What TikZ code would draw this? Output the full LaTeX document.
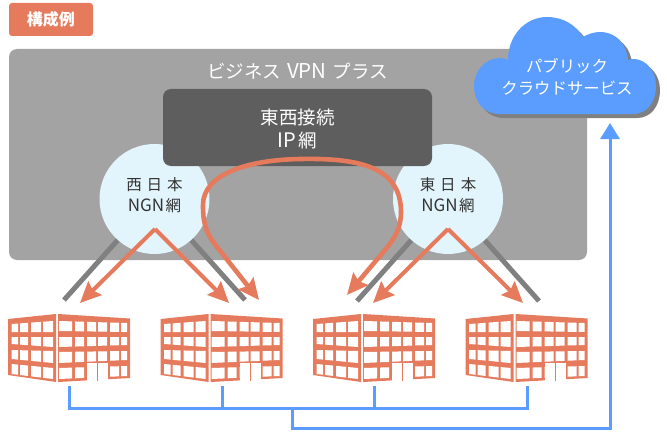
\documentclass[tikz,border=0pt]{standalone}
\usepackage{fontspec}
\setmainfont{Noto Sans CJK JP}
\usetikzlibrary{arrows.meta}
\definecolor{coral}{HTML}{E57B5C}
\definecolor{skyblue}{HTML}{5B9DFF}
\definecolor{panelgray}{HTML}{A2A3A2}
\definecolor{boxgray}{HTML}{5E5E5E}
\definecolor{linegray}{HTML}{808080}
\definecolor{ngnblue}{HTML}{E3F5FC}
\newcommand{\fsize}[2]{\fontsize{#1}{#2}\selectfont}
\tikzstyle{badge}=[rectangle,rounded corners=3pt,fill=coral,text=white,minimum width=84pt,minimum height=33pt,font=\fsize{16}{20}\bfseries]
\tikzstyle{panel}=[rectangle,rounded corners=8pt,fill=panelgray,minimum width=578pt,minimum height=211pt]
\tikzstyle{ipbox}=[rectangle,rounded corners=8pt,fill=boxgray,minimum width=269pt,minimum height=77pt]
\tikzstyle{iplabel}=[text=white,align=center,font=\fsize{18.5}{23}]
\tikzstyle{ngn}=[circle,fill=ngnblue,minimum size=110pt,inner sep=0pt]
\tikzstyle{ngnlabel}=[text=black!80,align=center,font=\fsize{15.5}{21}]
\tikzstyle{uplink}=[linegray,line width=5pt]
\tikzstyle{route}=[-{Stealth[length=21pt,width=19pt,inset=3pt]},coral,line width=4pt]
\tikzstyle{bus}=[skyblue,line width=3pt]
\tikzset{
  pics/building/.style={code={
    \fill[coral] (8,319) -- (56,314) -- (56,382) -- (8,375) -- cycle;
    \fill[coral] (58,314) -- (130,318.5) -- (130,378) -- (58,382) -- cycle;
    % left face
    \foreach \ta/\ba/\tb/\bb in {324/332/321/332,337/344/337/347,350/359/351/363,364/374/368/379}
      \foreach \xa/\xb in {11.7/18,20/28,31/41,43/53} {
        \pgfmathsetmacro{\ya}{\ta+(\tb-\ta)*(\xa-11.7)/41.3}
        \pgfmathsetmacro{\yb}{\ba+(\bb-\ba)*(\xa-11.7)/41.3}
        \pgfmathsetmacro{\yc}{\ba+(\bb-\ba)*(\xb-11.7)/41.3}
        \pgfmathsetmacro{\yd}{\ta+(\tb-\ta)*(\xb-11.7)/41.3}
        \fill[white] (\xa,\ya) -- (\xa,\yb) -- (\xb,\yc) -- (\xb,\yd) -- cycle;
      }
    % right face
    \foreach \ta/\ba/\tb/\bb in {321/331/323/332,337/347/337/345,352/363/351/360,368/379/366/376}
      \foreach \xa/\xb in {59/72,75/84,87/96,98/107,110/119,121/127} {
        \pgfmathsetmacro{\ya}{\ta+(\tb-\ta)*(\xa-59)/68}
        \pgfmathsetmacro{\yb}{\ba+(\bb-\ba)*(\xa-59)/68}
        \pgfmathsetmacro{\yc}{\ba+(\bb-\ba)*(\xb-59)/68}
        \pgfmathsetmacro{\yd}{\ta+(\tb-\ta)*(\xb-59)/68}
        \fill[white] (\xa,\ya) -- (\xa,\yb) -- (\xb,\yc) -- (\xb,\yd) -- cycle;
      }
    % door
    \fill[white] (87,363) rectangle (108,383);
    \draw[coral,line width=.8pt] (97.5,363) -- (97.5,381);
  }}
}
\newcommand{\cloudpath}{(500,114) .. controls (484,114) and (474,102) .. (474,86)
  .. controls (474,70) and (486,58) .. (500,58) .. controls (503,58) and (506,59) .. (508,60)
  .. controls (508,36) and (525,17) .. (547,17) .. controls (563,17) and (576,25) .. (583,37)
  .. controls (588,34) and (594,32) .. (600,32) .. controls (616,32) and (627,44) .. (628,60)
  .. controls (630,59) and (633,59) .. (635,59) .. controls (647,60) and (656,72) .. (656,86)
  .. controls (656,102) and (647,114) .. (633,114) -- cycle}

\begin{document}
\begin{tikzpicture}[x=1pt,y=-1pt]
	\useasboundingbox (0,0) rectangle (667,436);
	\node[badge] (sample) at (51,19.5) {構成例};
	\node[panel] (vpn) at (298,154.5) {};
	\node[text=white,font=\fsize{18.5}{22}] (vpnlabel) at (297.5,71) {ビジネス\hspace{6pt}{\fsize{20.5}{22}VPN}\hspace{6pt}プラス};

	\coordinate (w1) at (64,300);
	\coordinate (w2) at (245,300);
	\coordinate (e1) at (357,301);
	\coordinate (e2) at (539,301);
	\coordinate (wc) at (154.5,199);
	\coordinate (ec) at (448,199);
	\draw[uplink] (wc) -- (w1);
	\draw[uplink] (wc) -- (w2);
	\draw[uplink] (ec) -- (e1);
	\draw[uplink] (ec) -- (e2);

	\node[ngn] (west) at (wc) {};
	\node[ngn] (east) at (ec) {};
	\node[ngnlabel,yshift=3.5pt] (westlabel) at (west) {西\hspace{5pt}日\hspace{5pt}本\\{\fsize{17}{21}NGN}\hspace{1.5pt}網};
	\node[ngnlabel,yshift=3.5pt] (eastlabel) at (east) {東\hspace{5pt}日\hspace{5pt}本\\{\fsize{17}{21}NGN}\hspace{1.5pt}網};
	\node[ipbox] (ip) at (297.5,127.5) {};
	\node[iplabel,yshift=-1.5pt] (iplabel) at (ip) {東西接続\\{\fsize{20}{23}IP}\hspace{2pt}網};

	\fill[linegray,shift={(4,4)}] \cloudpath;
	\fill[skyblue] \cloudpath;
	\node[text=white,align=center,font=\fsize{16.4}{21.5}] (cloudlabel) at (567,77) {パブリック\\クラウドサービス};

	% routes
	\coordinate (wa) at (155,229);
	\coordinate (ea) at (448,229);
	\coordinate (wt1) at (80,303);
	\coordinate (wt2) at (229,303);
	\coordinate (et1) at (373,303);
	\coordinate (et2) at (523,303);
	\coordinate (cl) at (259,300);
	\coordinate (cr) at (347,295);
	\draw[route] (wa) -- (wt1);
	\draw[route] (wa) -- (wt2);
	\draw[route] (ea) -- (et1);
	\draw[route] (ea) -- (et2);
	\draw[route,line width=4.6pt,{Stealth[length=21pt,width=19pt,inset=3pt]}-{Stealth[length=21pt,width=19pt,inset=3pt]}]
		(cl) -- (217,247) .. controls (205,232) and (203,222) .. (203,205)
		.. controls (203,175) and (245,160) .. (300,159)
		.. controls (355,158) and (401,165) .. (401,212)
		.. controls (401,228) and (395,238) .. (385,250) -- (cr);

	\foreach \dx/\name in {0/b1,152.5/b2,305/b3,457.5/b4}
		\pic (\name) at (\dx,0) {building};

	% bus
	\coordinate (b1) at (69,386);
	\coordinate (b2) at (222,386);
	\coordinate (b3) at (374,386);
	\coordinate (b4) at (527,386);
	\coordinate (trunk) at (292,408);
	\coordinate (cloudin) at (610,123);
	\draw[bus] (b1) |- (trunk) -| (b4);
	\draw[bus] (b2) -- (b2 |- trunk);
	\draw[bus] (b3) -- (b3 |- trunk);
	\draw[bus,-{Triangle[length=16pt,width=19pt]}] (trunk) -- (292,428) -| (cloudin);
\end{tikzpicture}
\end{document}
